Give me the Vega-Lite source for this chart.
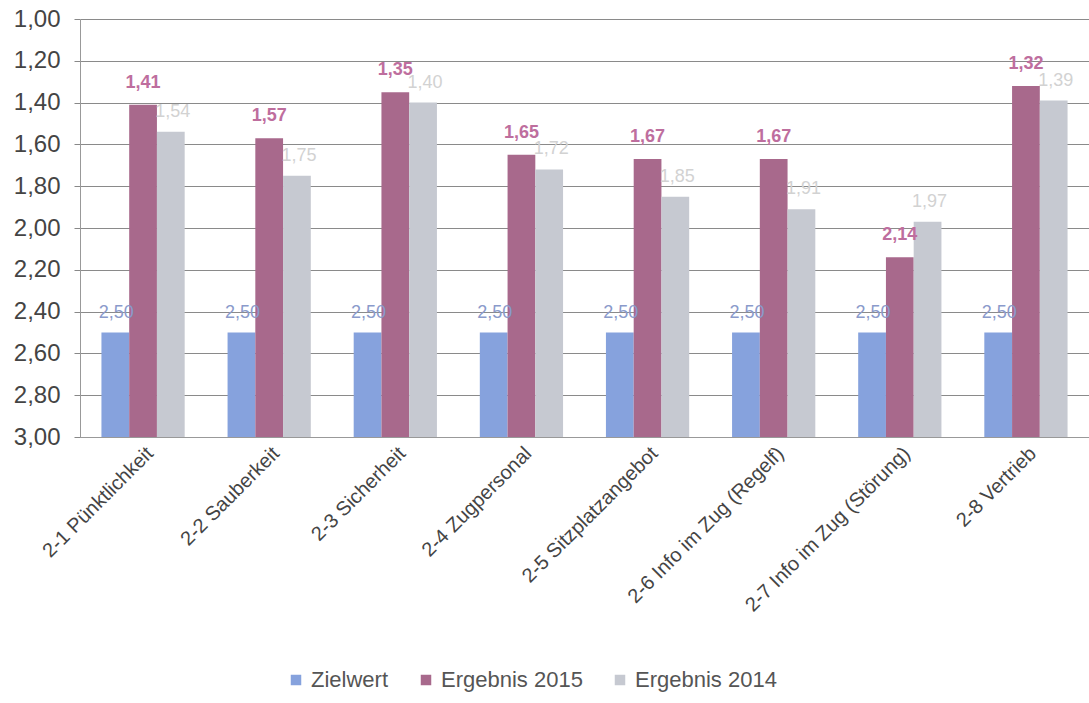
{
  "$schema": "https://vega.github.io/schema/vega-lite/v6.json",
  "width": 1009,
  "height": 418,
  "autosize": {"type": "none"},
  "padding": {"left": 80, "top": 19, "right": 0, "bottom": 266},
  "background": "white",
  "config": {
    "locale": {"number": {"decimal": ",", "thousands": ".", "grouping": [3], "currency": ["", " €"]}},
    "font": "Liberation Sans",
    "view": {"stroke": null}
  },
  "data": {
    "values": [
      {"kategorie": "2-1 Pünktlichkeit", "serie": "Zielwert", "wert": 2.50},
      {"kategorie": "2-1 Pünktlichkeit", "serie": "Ergebnis 2015", "wert": 1.41},
      {"kategorie": "2-1 Pünktlichkeit", "serie": "Ergebnis 2014", "wert": 1.54},
      {"kategorie": "2-2 Sauberkeit", "serie": "Zielwert", "wert": 2.50},
      {"kategorie": "2-2 Sauberkeit", "serie": "Ergebnis 2015", "wert": 1.57},
      {"kategorie": "2-2 Sauberkeit", "serie": "Ergebnis 2014", "wert": 1.75},
      {"kategorie": "2-3 Sicherheit", "serie": "Zielwert", "wert": 2.50},
      {"kategorie": "2-3 Sicherheit", "serie": "Ergebnis 2015", "wert": 1.35},
      {"kategorie": "2-3 Sicherheit", "serie": "Ergebnis 2014", "wert": 1.40},
      {"kategorie": "2-4 Zugpersonal", "serie": "Zielwert", "wert": 2.50},
      {"kategorie": "2-4 Zugpersonal", "serie": "Ergebnis 2015", "wert": 1.65},
      {"kategorie": "2-4 Zugpersonal", "serie": "Ergebnis 2014", "wert": 1.72},
      {"kategorie": "2-5 Sitzplatzangebot", "serie": "Zielwert", "wert": 2.50},
      {"kategorie": "2-5 Sitzplatzangebot", "serie": "Ergebnis 2015", "wert": 1.67},
      {"kategorie": "2-5 Sitzplatzangebot", "serie": "Ergebnis 2014", "wert": 1.85},
      {"kategorie": "2-6 Info im Zug (Regelf)", "serie": "Zielwert", "wert": 2.50},
      {"kategorie": "2-6 Info im Zug (Regelf)", "serie": "Ergebnis 2015", "wert": 1.67},
      {"kategorie": "2-6 Info im Zug (Regelf)", "serie": "Ergebnis 2014", "wert": 1.91},
      {"kategorie": "2-7 Info im Zug (Störung)", "serie": "Zielwert", "wert": 2.50},
      {"kategorie": "2-7 Info im Zug (Störung)", "serie": "Ergebnis 2015", "wert": 2.14},
      {"kategorie": "2-7 Info im Zug (Störung)", "serie": "Ergebnis 2014", "wert": 1.97},
      {"kategorie": "2-8 Vertrieb", "serie": "Zielwert", "wert": 2.50},
      {"kategorie": "2-8 Vertrieb", "serie": "Ergebnis 2015", "wert": 1.32},
      {"kategorie": "2-8 Vertrieb", "serie": "Ergebnis 2014", "wert": 1.39}
    ]
  },
  "encoding": {
    "x": {
      "field": "kategorie", "type": "nominal", "sort": null,
      "scale": {"paddingInner": 0.34, "paddingOuter": 0.17},
      "axis": {
        "title": null, "labelAngle": -45, "labelFontSize": 20, "labelColor": "#444444",
        "labelPadding": 6, "ticks": false, "domainColor": "#999999", "labelLimit": 300
      }
    },
    "xOffset": {"field": "serie", "type": "nominal", "scale": {"domain": ["Zielwert", "Ergebnis 2015", "Ergebnis 2014"]}},
    "y": {
      "field": "wert", "type": "quantitative",
      "scale": {"domain": [1, 3], "reverse": true, "nice": false, "zero": false},
      "axis": {
        "title": null, "values": [1, 1.2, 1.4, 1.6, 1.8, 2, 2.2, 2.4, 2.6, 2.8, 3],
        "format": ".2f", "labelFontSize": 24, "labelColor": "#444444", "labelPadding": 14,
        "tickSize": 6, "tickColor": "#888888", "domainColor": "#999999",
        "grid": true, "gridColor": "#8a8a8a", "gridWidth": 1
      }
    }
  },
  "layer": [
    {
      "mark": {"type": "bar"},
      "encoding": {
        "y2": {"datum": 3},
        "color": {
          "field": "serie", "type": "nominal",
          "scale": {"domain": ["Zielwert", "Ergebnis 2015", "Ergebnis 2014"], "range": ["#86a2dd", "#a8698c", "#c6c9d1"]},
          "legend": {
            "title": null, "orient": "none", "direction": "horizontal", "legendX": 205, "legendY": 650,
            "symbolType": "square", "symbolSize": 110, "symbolStrokeWidth": 0,
            "labelFontSize": 22, "labelColor": "#555555", "columnPadding": 26, "labelOffset": 4
          }
        }
      }
    },
    {
      "transform": [{"filter": "datum.serie === 'Zielwert'"}],
      "mark": {"type": "text", "dy": -20, "dx": 1, "fontSize": 18, "color": "#8a9acb", "baseline": "middle"},
      "encoding": {"text": {"field": "wert", "type": "quantitative", "format": ".2f"}}
    },
    {
      "transform": [{"filter": "datum.serie === 'Ergebnis 2015'"}],
      "mark": {"type": "text", "dy": -22, "fontSize": 18, "fontWeight": "bold", "color": "#be6e9e", "baseline": "middle"},
      "encoding": {"text": {"field": "wert", "type": "quantitative", "format": ".2f"}}
    },
    {
      "transform": [{"filter": "datum.serie === 'Ergebnis 2014'"}],
      "mark": {"type": "text", "dy": -20, "dx": 2, "fontSize": 18, "color": "#d2d2d2", "baseline": "middle"},
      "encoding": {"text": {"field": "wert", "type": "quantitative", "format": ".2f"}}
    }
  ]
}
